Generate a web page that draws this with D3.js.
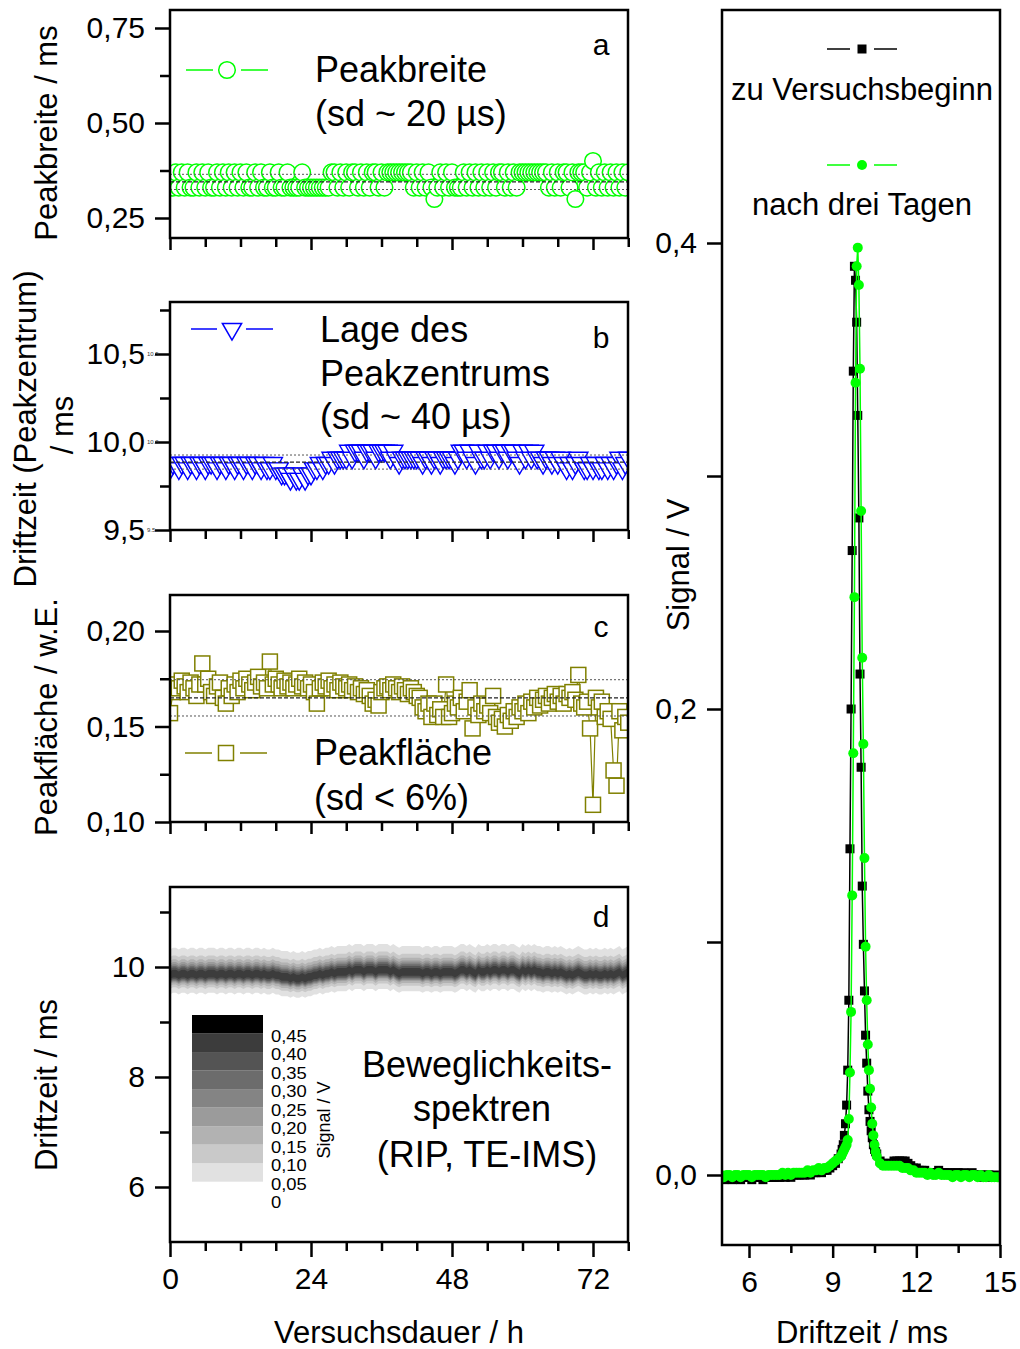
<!DOCTYPE html>
<html>
<head>
<meta charset="utf-8">
<title>RIP TE-IMS</title>
<script src="https://d3js.org/d3.v7.min.js"></script>
<style>
  body { margin: 0; background: #fff; }
  svg { display: block; font-family: Arial, "Liberation Sans", Helvetica, sans-serif; }
</style>
</head>
<body>
<div id="chart"></div>
<script>

// one spectrum every 30 min over 78 h
var hours = d3.range(0, 78.25, 0.5);

// a: Peakbreite / ms
var peakWidth = [
  0.33,0.33,0.37,0.33,0.37,0.33,0.37,0.33,0.33,0.37,0.33,0.37,
  0.33,0.37,0.33,0.33,0.37,0.33,0.37,0.33,0.37,0.33,0.37,0.33,
  0.37,0.33,0.37,0.33,0.33,0.37,0.33,0.37,0.33,0.33,0.37,0.33,
  0.33,0.37,0.33,0.33,0.37,0.33,0.33,0.33,0.33,0.37,0.33,0.33,
  0.33,0.33,0.33,0.33,0.33,0.33,0.33,0.37,0.37,0.33,0.37,0.33,
  0.37,0.33,0.37,0.37,0.33,0.37,0.33,0.37,0.33,0.37,0.37,0.33,
  0.37,0.33,0.37,0.37,0.37,0.37,0.37,0.37,0.37,0.37,0.37,0.33,
  0.37,0.33,0.37,0.33,0.37,0.33,0.30,0.33,0.37,0.33,0.37,0.33,
  0.37,0.33,0.33,0.33,0.37,0.33,0.37,0.33,0.37,0.33,0.37,0.33,
  0.37,0.33,0.37,0.33,0.37,0.37,0.33,0.37,0.33,0.37,0.33,0.37,
  0.37,0.37,0.37,0.37,0.37,0.37,0.37,0.37,0.37,0.33,0.37,0.33,
  0.37,0.33,0.37,0.37,0.33,0.37,0.30,0.37,0.37,0.37,0.33,0.37,
  0.40,0.33,0.37,0.33,0.37,0.33,0.37,0.33,0.37,0.33,0.37,0.33,0.37
];

// b: Driftzeit des Peakzentrums / ms
var peakCenter = [
  9.85,9.88,9.88,9.85,9.88,9.88,9.85,9.88,9.88,9.85,9.88,9.88,
  9.85,9.88,9.88,9.88,9.85,9.88,9.88,9.85,9.88,9.88,9.85,9.88,
  9.88,9.85,9.88,9.88,9.85,9.88,9.88,9.85,9.88,9.85,9.85,9.88,
  9.85,9.85,9.82,9.82,9.82,9.79,9.82,9.79,9.79,9.82,9.79,9.82,
  9.82,9.85,9.85,9.88,9.85,9.88,9.88,9.91,9.88,9.91,9.91,9.91,
  9.91,9.95,9.91,9.95,9.95,9.95,9.91,9.95,9.95,9.95,9.91,9.95,
  9.95,9.95,9.95,9.91,9.95,9.91,9.88,9.91,9.91,9.91,9.91,9.91,
  9.91,9.91,9.88,9.91,9.91,9.88,9.91,9.91,9.88,9.91,9.91,9.91,
  9.91,9.88,9.91,9.95,9.95,9.91,9.95,9.91,9.88,9.95,9.91,9.91,
  9.95,9.91,9.95,9.95,9.91,9.95,9.95,9.91,9.95,9.95,9.91,9.88,
  9.95,9.91,9.95,9.91,9.95,9.91,9.91,9.88,9.91,9.91,9.88,9.91,
  9.88,9.91,9.88,9.85,9.88,9.85,9.88,9.91,9.88,9.85,9.85,9.88,
  9.85,9.88,9.85,9.85,9.88,9.85,9.88,9.85,9.88,9.91,9.85,9.88,9.91
];

// c: Peakfläche / w.E.
var peakArea = [
  0.157,0.168,0.172,0.170,0.174,0.171,0.168,0.173,0.170,0.166,0.172,0.183,
  0.172,0.175,0.168,0.166,0.171,0.173,0.165,0.162,0.170,0.166,0.172,0.168,
  0.174,0.170,0.175,0.172,0.169,0.173,0.176,0.171,0.173,0.170,0.184,0.172,
  0.175,0.172,0.170,0.174,0.171,0.173,0.170,0.172,0.175,0.171,0.173,0.170,
  0.172,0.168,0.162,0.170,0.173,0.171,0.174,0.170,0.172,0.169,0.173,0.171,
  0.170,0.172,0.169,0.171,0.168,0.170,0.167,0.169,0.166,0.162,0.164,0.161,
  0.168,0.170,0.171,0.169,0.172,0.170,0.168,0.171,0.169,0.167,0.170,0.168,
  0.166,0.165,0.160,0.158,0.162,0.155,0.162,0.156,0.159,0.155,0.172,0.155,
  0.157,0.162,0.160,0.165,0.158,0.163,0.169,0.149,0.160,0.156,0.162,0.158,
  0.161,0.157,0.166,0.155,0.152,0.154,0.150,0.156,0.153,0.158,0.155,0.160,
  0.158,0.162,0.157,0.163,0.160,0.165,0.161,0.164,0.166,0.162,0.165,0.167,
  0.163,0.166,0.162,0.167,0.165,0.168,0.164,0.177,0.162,0.160,0.163,0.149,
  0.109,0.165,0.160,0.163,0.155,0.158,0.154,0.127,0.119,0.158,0.148,0.155,0.152
];

// mean - sd, mean, mean + sd
var widthStats = [0.325, 0.345, 0.365];
var centerStats = [9.846, 9.886, 9.926];
var areaStats = [0.1555, 0.165, 0.1745];

// d: contour levels (Signal / V)
var levels = [0, 0.05, 0.10, 0.15, 0.20, 0.25, 0.30, 0.35, 0.40, 0.45];
var levelLabels = ["0", "0,05", "0,10", "0,15", "0,20", "0,25", "0,30", "0,35", "0,40", "0,45"];
var levelColors = ["#ffffff", "#e1e1e1", "#c9c9c9", "#b2b2b2", "#9b9b9b", "#848484", "#6c6c6c", "#545454", "#3c3c3c", "#000000"];
// extent of each contour above / below the peak centre, ms (levels 0,05 ... 0,40)
var bandUpper = [0.47, 0.33, 0.26, 0.21, 0.17, 0.14, 0.11, 0.07];
var bandLower = [0.35, 0.25, 0.20, 0.16, 0.14, 0.12, 0.10, 0.07];

// right: RIP spectra
var driftTime = [
  5.0,5.1,5.2,5.3,5.4,5.5,5.6,5.7,5.8,5.9,
  6.0,6.1,6.2,6.3,6.4,6.5,6.6,6.7,6.8,6.9,
  7.0,7.1,7.2,7.3,7.4,7.5,7.6,7.7,7.8,7.9,
  8.0,8.1,8.2,8.3,8.4,8.5,8.6,8.7,8.8,8.9,
  9.0,9.1,9.2,
  9.30,9.34,9.38,9.42,9.46,9.50,9.54,9.58,9.62,9.66,
  9.70,9.74,9.78,9.82,9.86,9.90,9.94,9.98,10.02,10.06,
  10.10,10.14,10.18,10.22,10.26,10.30,10.34,10.38,10.42,10.46,
  10.50,10.54,10.58,
  10.7,10.8,10.9,11.0,11.1,11.2,11.3,11.4,11.5,11.6,
  11.7,11.8,11.9,12.0,12.1,12.2,12.3,12.4,12.5,12.6,
  12.7,12.8,12.9,13.0,13.1,13.2,13.3,13.4,13.5,13.6,
  13.7,13.8,13.9,14.0,14.1,14.2,14.3,14.4,14.5,14.6,
  14.7,14.8,14.9,15.0
];
var signalBegin = [
  -0.001,-0.002,-0.001,-0.001,-0.002,-0.001,-0.001,-0.002,-0.001,-0.001,
  -0.001,-0.002,-0.001,-0.001,-0.001,-0.002,-0.001,-0.001,-0.001,-0.001,
  -0.001,-0.001,0.000,-0.001,0.000,-0.001,0.000,0.000,0.000,0.000,
  0.000,0.001,0.000,0.001,0.001,0.002,0.001,0.002,0.002,0.003,
  0.004,0.005,0.007,
  0.009,0.011,0.013,0.017,0.022,0.030,0.045,0.075,0.140,0.200,
  0.268,0.345,0.390,0.384,0.366,0.326,0.282,0.215,0.175,0.124,
  0.099,0.079,0.060,0.048,0.036,0.028,0.023,0.019,0.016,0.013,
  0.011,0.010,0.009,
  0.006,0.005,0.005,0.005,0.005,0.006,0.006,0.006,0.006,0.006,
  0.005,0.004,0.003,0.003,0.002,0.002,0.002,0.001,0.001,0.001,
  0.001,0.002,0.001,0.001,0.001,0.001,0.000,0.001,0.001,0.000,
  0.001,0.000,0.000,0.001,0.000,0.000,0.000,-0.001,0.000,0.000,
  -0.001,0.000,-0.001,-0.001
];
var signalAfter = [
  0.000,-0.001,0.000,0.000,-0.001,0.000,0.000,-0.001,0.000,0.000,
  0.000,-0.001,0.000,0.000,0.000,0.000,-0.001,0.000,0.000,0.000,
  0.000,0.000,0.001,0.000,0.001,0.000,0.001,0.001,0.001,0.001,
  0.001,0.002,0.001,0.002,0.002,0.003,0.002,0.003,0.003,0.004,
  0.005,0.006,0.007,
  0.008,0.009,0.010,0.011,0.012,0.013,0.015,0.024,0.044,0.070,
  0.120,0.181,0.248,0.340,0.390,0.398,0.382,0.346,0.285,0.222,
  0.185,0.136,0.098,0.075,0.056,0.045,0.037,0.029,0.022,0.017,
  0.013,0.010,0.008,
  0.005,0.004,0.004,0.004,0.004,0.004,0.004,0.004,0.003,0.003,
  0.003,0.002,0.002,0.001,0.001,0.001,0.001,0.000,0.001,0.000,
  0.000,0.001,0.000,0.000,0.000,0.000,-0.001,0.000,0.000,-0.001,
  0.000,0.000,-0.001,0.000,0.000,-0.001,0.000,-0.001,-0.001,0.000,
  -0.001,-0.001,-0.001,-0.001
];

var timeMajor = [0, 24, 48, 72],
    timeMinor = [6, 12, 18, 30, 36, 42, 54, 60, 66, 78];

// ---------------- layout ----------------
var W = 1020, H = 1349,
    LX0 = 170, LX1 = 628,
    RX0 = 722, RX1 = 1000,
    FRAME = 2.5,
    TICK_FONT = 30,
    NOTE_FONT = 36,
    TITLE_FONT = 31;

var boxA = {top: 10, bottom: 238},
    boxB = {top: 302, bottom: 530},
    boxC = {top: 595, bottom: 822},
    boxD = {top: 887, bottom: 1242},
    boxR = {top: 10, bottom: 1245};

var GREEN = "#00ff00", BLUE = "#0000ff", OLIVE = "#808000";

var xTime = d3.scaleLinear().domain([0, 72]).range([170, 593]);
var yWidth = d3.scaleLinear().domain([0.25, 0.75]).range([218, 28]);
var yCenter = d3.scaleLinear().domain([9.5, 10.5]).range([530, 354]);
var yArea = d3.scaleLinear().domain([0.10, 0.20]).range([822, 631]);
var yDrift = d3.scaleLinear().domain([6, 10]).range([1187, 967]);
var xSpec = d3.scaleLinear().domain([6, 15]).range([749, 1000]);
var ySpec = d3.scaleLinear().domain([0, 0.4]).range([1175, 243]);
var yLegend = d3.scaleLinear().domain([0.05, 0.5]).range([1181.7, 1015]);

var loc = d3.formatLocale({decimal: ",", thousands: ".", grouping: [3], currency: ["", ""]});

var svg = d3.select("#chart").append("svg")
  .attr("width", W)
  .attr("height", H);

svg.append("rect").attr("width", W).attr("height", H).attr("fill", "#fff");

var defs = svg.append("defs");

function clipped(id, x0, x1, box) {
  defs.append("clipPath").attr("id", id)
    .append("rect")
      .attr("x", x0).attr("y", box.top)
      .attr("width", x1 - x0).attr("height", box.bottom - box.top);
  return svg.append("g").attr("clip-path", "url(#" + id + ")");
}

function frame(x0, x1, box) {
  svg.append("rect")
    .attr("x", x0).attr("y", box.top)
    .attr("width", x1 - x0).attr("height", box.bottom - box.top)
    .attr("fill", "none")
    .attr("stroke", "#000")
    .attr("stroke-width", FRAME);
}

function styleAxis(a) {
  a.attr("font-family", null).attr("font-size", TICK_FONT);
  a.select(".domain").remove();
  a.selectAll(".tick line").attr("stroke", "#000").attr("stroke-width", 2.5);
  a.selectAll(".tick text").attr("fill", "#000");
}

function leftAxis(scale, x, major, minor, fmt, majLen, minLen) {
  var a = svg.append("g").attr("transform", "translate(" + x + ",0)")
    .call(d3.axisLeft(scale).tickValues(major).tickSize(majLen).tickPadding(10).tickFormat(fmt));
  styleAxis(a);
  var m = svg.append("g").attr("transform", "translate(" + x + ",0)")
    .call(d3.axisLeft(scale).tickValues(minor).tickSize(minLen).tickFormat(""));
  styleAxis(m);
}

function bottomAxis(scale, y, major, minor, majLen, minLen, pad, fmt) {
  var a = svg.append("g").attr("transform", "translate(0," + y + ")")
    .call(d3.axisBottom(scale).tickValues(major).tickSize(majLen).tickPadding(pad).tickFormat(fmt));
  styleAxis(a);
  var m = svg.append("g").attr("transform", "translate(0," + y + ")")
    .call(d3.axisBottom(scale).tickValues(minor).tickSize(minLen).tickFormat(""));
  styleAxis(m);
}

function label(s, x, y, size, o) {
  o = o || {};
  var tr = "translate(" + x + "," + y + ")";
  if (o.sx) tr += " scale(" + o.sx + ",1)";
  if (o.rot) tr += " rotate(" + o.rot + ")";
  return svg.append("text")
    .attr("transform", tr)
    .attr("font-size", size)
    .attr("text-anchor", o.anchor || "start")
    .attr("fill", o.fill || "#000")
    .text(s);
}

function statLines(g, scale, stats) {
  g.selectAll(".stat")
    .data(stats)
    .enter()
    .append("line")
      .attr("x1", LX0).attr("x2", LX1)
      .attr("y1", function(d) { return scale(d); })
      .attr("y2", function(d) { return scale(d); })
      .attr("stroke", function(d, i) { return i === 1 ? "#222" : "#555"; })
      .attr("stroke-width", function(d, i) { return i === 1 ? 1.2 : 1; })
      .attr("stroke-dasharray", function(d, i) { return i === 1 ? "4,2" : "2,2"; });
}

// ---------------- panel a ----------------
var dataA = hours.map(function(t, i) { return {t: t, v: peakWidth[i]}; });
var gA = clipped("clipA", LX0, LX1, boxA);
gA.append("path")
  .attr("d", d3.line().x(function(d) { return xTime(d.t); }).y(function(d) { return yWidth(d.v); })(dataA))
  .attr("fill", "none").attr("stroke", GREEN).attr("stroke-width", 1);
gA.selectAll("circle")
  .data(dataA)
  .enter()
  .append("circle")
    .attr("cx", function(d) { return xTime(d.t); })
    .attr("cy", function(d) { return yWidth(d.v); })
    .attr("r", 8.3)
    .attr("fill", "#fff")
    .attr("stroke", GREEN)
    .attr("stroke-width", 1.5);
statLines(gA, yWidth, widthStats);

// ---------------- panel b ----------------
var dataB = hours.map(function(t, i) { return {t: t, v: peakCenter[i]}; });
var tri = d3.symbol().type(d3.symbolTriangle).size(160);
var gB = clipped("clipB", LX0, LX1, boxB);
gB.append("path")
  .attr("d", d3.line().x(function(d) { return xTime(d.t); }).y(function(d) { return yCenter(d.v); })(dataB))
  .attr("fill", "none").attr("stroke", BLUE).attr("stroke-width", 1);
gB.selectAll(".tri")
  .data(dataB)
  .enter()
  .append("path")
    .attr("class", "tri")
    .attr("d", tri)
    .attr("transform", function(d) { return "translate(" + xTime(d.t) + "," + yCenter(d.v) + ") rotate(180)"; })
    .attr("fill", "#fff")
    .attr("stroke", BLUE)
    .attr("stroke-width", 1.4);
statLines(gB, yCenter, centerStats);

// ---------------- panel c ----------------
var dataC = hours.map(function(t, i) { return {t: t, v: peakArea[i]}; });
var gC = clipped("clipC", LX0, LX1, boxC);
gC.append("path")
  .attr("d", d3.line().x(function(d) { return xTime(d.t); }).y(function(d) { return yArea(d.v); })(dataC))
  .attr("fill", "none").attr("stroke", OLIVE).attr("stroke-width", 1.2);
gC.selectAll("rect")
  .data(dataC)
  .enter()
  .append("rect")
    .attr("x", function(d) { return xTime(d.t) - 7.5; })
    .attr("y", function(d) { return yArea(d.v) - 7.5; })
    .attr("width", 15).attr("height", 15)
    .attr("fill", "#fff")
    .attr("stroke", OLIVE)
    .attr("stroke-width", 1.5);
statLines(gC, yArea, areaStats);

// ---------------- panel d ----------------
var gD = clipped("clipD", LX0, LX1, boxD);
bandUpper.forEach(function(up, k) {
  var area = d3.area()
    .x(function(d, i) { return xTime(hours[i]); })
    .y0(function(d) { return yDrift(d - bandLower[k]); })
    .y1(function(d) { return yDrift(d + up); });
  gD.append("path")
    .attr("d", area(peakCenter))
    .attr("fill", levelColors[k + 1]);
});

// colour scale legend
var legendBlocks = levels.slice(1);
svg.selectAll(".lvl")
  .data(legendBlocks)
  .enter()
  .append("rect")
    .attr("class", "lvl")
    .attr("x", 192)
    .attr("width", 71)
    .attr("y", function(d) { return yLegend(d + 0.05); })
    .attr("height", function(d) { return yLegend(d) - yLegend(d + 0.05); })
    .attr("fill", function(d, i) { return levelColors[i + 1]; });
svg.selectAll(".lvlLabel")
  .data(levels)
  .enter()
  .append("text")
    .attr("class", "lvlLabel")
    .attr("transform", function(d) { return "translate(271," + (yLegend(d) + 8) + ") scale(1.15,1)"; })
    .attr("font-size", 16)
    .text(function(d, i) { return levelLabels[i]; });
label("Signal / V", 330, 1120, 18, {rot: -90, anchor: "middle"});

// ---------------- right panel: spectra ----------------
var gR = clipped("clipR", RX0, RX1, boxR);
var specBegin = driftTime.map(function(t, i) { return {t: t, v: signalBegin[i]}; });
var specAfter = driftTime.map(function(t, i) { return {t: t, v: signalAfter[i]}; });
var specLine = d3.line().x(function(d) { return xSpec(d.t); }).y(function(d) { return ySpec(d.v); });

gR.append("path").attr("d", specLine(specBegin))
  .attr("fill", "none").attr("stroke", "#000").attr("stroke-width", 1.5);
gR.selectAll(".sq")
  .data(specBegin)
  .enter()
  .append("rect")
    .attr("class", "sq")
    .attr("x", function(d) { return xSpec(d.t) - 4.5; })
    .attr("y", function(d) { return ySpec(d.v) - 4.5; })
    .attr("width", 9).attr("height", 9)
    .attr("fill", "#000");

gR.append("path").attr("d", specLine(specAfter))
  .attr("fill", "none").attr("stroke", GREEN).attr("stroke-width", 1.5);
gR.selectAll(".dot")
  .data(specAfter)
  .enter()
  .append("circle")
    .attr("class", "dot")
    .attr("cx", function(d) { return xSpec(d.t); })
    .attr("cy", function(d) { return ySpec(d.v); })
    .attr("r", 5)
    .attr("fill", GREEN);

// ---------------- frames and axes ----------------
frame(LX0, LX1, boxA);
frame(LX0, LX1, boxB);
frame(LX0, LX1, boxC);
frame(LX0, LX1, boxD);
frame(RX0, RX1, boxR);

leftAxis(yWidth, LX0, [0.25, 0.5, 0.75], [0.375, 0.625], loc.format(".2f"), 15, 10);
leftAxis(yCenter, LX0, [9.5, 10, 10.5], [9.75, 10.25, 10.75], loc.format(".1f"), 15, 10);
leftAxis(yArea, LX0, [0.10, 0.15, 0.20], [0.125, 0.175], loc.format(".2f"), 15, 10);
leftAxis(yDrift, LX0, [6, 8, 10], [7, 9, 11], loc.format("d"), 15, 10);
leftAxis(ySpec, RX0, [0, 0.2, 0.4], [0.1, 0.3], loc.format(".1f"), 15, 15);

bottomAxis(xTime, boxA.bottom, timeMajor, timeMinor, 12, 9, 0, "");
bottomAxis(xTime, boxB.bottom, timeMajor, timeMinor, 12, 9, 0, "");
bottomAxis(xTime, boxC.bottom, timeMajor, timeMinor, 12, 9, 0, "");
bottomAxis(xTime, boxD.bottom, timeMajor, timeMinor, 15, 9, 11, loc.format("d"));
bottomAxis(xSpec, boxR.bottom, [6, 9, 12, 15], [7.5, 10.5, 13.5], 13, 8, 13, loc.format("d"));

// tiny duplicate labels next to the b axis
[9.5, 10, 10.5].forEach(function(v) {
  svg.append("text")
    .attr("x", 147).attr("y", yCenter(v)).attr("dy", "0.32em")
    .attr("font-size", 6).attr("fill", "#333")
    .text(d3.format(".1f")(v));
});

// ---------------- legends and annotations ----------------
// a
svg.append("line").attr("x1", 186).attr("x2", 213).attr("y1", 70).attr("y2", 70).attr("stroke", GREEN).attr("stroke-width", 1.5);
svg.append("line").attr("x1", 241).attr("x2", 268).attr("y1", 70).attr("y2", 70).attr("stroke", GREEN).attr("stroke-width", 1.5);
svg.append("circle").attr("cx", 227).attr("cy", 70).attr("r", 8.3).attr("fill", "#fff").attr("stroke", GREEN).attr("stroke-width", 1.5);
label("Peakbreite", 315, 82, NOTE_FONT);
label("(sd ~ 20 µs)", 315, 126, NOTE_FONT);
label("a", 601, 55, 30, {anchor: "middle"});

// b
svg.append("line").attr("x1", 191).attr("x2", 217).attr("y1", 329).attr("y2", 329).attr("stroke", BLUE).attr("stroke-width", 1.5);
svg.append("line").attr("x1", 246).attr("x2", 273).attr("y1", 329).attr("y2", 329).attr("stroke", BLUE).attr("stroke-width", 1.5);
svg.append("path").attr("d", tri).attr("transform", "translate(232,329) rotate(180)")
  .attr("fill", "#fff").attr("stroke", BLUE).attr("stroke-width", 1.5);
label("Lage des", 320, 342, NOTE_FONT);
label("Peakzentrums", 320, 386, NOTE_FONT);
label("(sd ~ 40 µs)", 320, 429, NOTE_FONT);
label("b", 601, 348, 30, {anchor: "middle"});

// c
svg.append("line").attr("x1", 185).attr("x2", 212).attr("y1", 753).attr("y2", 753).attr("stroke", OLIVE).attr("stroke-width", 1.5);
svg.append("line").attr("x1", 240).attr("x2", 267).attr("y1", 753).attr("y2", 753).attr("stroke", OLIVE).attr("stroke-width", 1.5);
svg.append("rect").attr("x", 218.5).attr("y", 745.5).attr("width", 15).attr("height", 15)
  .attr("fill", "#fff").attr("stroke", OLIVE).attr("stroke-width", 1.5);
label("Peakfläche", 314, 765, NOTE_FONT);
label("(sd < 6%)", 314, 810, NOTE_FONT);
label("c", 601, 637, 30, {anchor: "middle"});

// d
label("Beweglichkeits-", 487, 1077, NOTE_FONT, {anchor: "middle"});
label("spektren", 482, 1121, NOTE_FONT, {anchor: "middle"});
label("(RIP, TE-IMS)", 487, 1167, NOTE_FONT, {anchor: "middle"});
label("d", 601, 927, 30, {anchor: "middle"});

// right legend
svg.append("line").attr("x1", 827).attr("x2", 850).attr("y1", 49).attr("y2", 49).attr("stroke", "#000").attr("stroke-width", 1.5);
svg.append("line").attr("x1", 874).attr("x2", 897).attr("y1", 49).attr("y2", 49).attr("stroke", "#000").attr("stroke-width", 1.5);
svg.append("rect").attr("x", 857.5).attr("y", 44.5).attr("width", 9).attr("height", 9).attr("fill", "#000");
label("zu Versuchsbeginn", 862, 100, 31, {anchor: "middle"});
svg.append("line").attr("x1", 827).attr("x2", 850).attr("y1", 165).attr("y2", 165).attr("stroke", GREEN).attr("stroke-width", 1.5);
svg.append("line").attr("x1", 874).attr("x2", 897).attr("y1", 165).attr("y2", 165).attr("stroke", GREEN).attr("stroke-width", 1.5);
svg.append("circle").attr("cx", 862).attr("cy", 165).attr("r", 5).attr("fill", GREEN);
label("nach drei Tagen", 862, 215, 31, {anchor: "middle"});

// ---------------- axis titles ----------------
label("Peakbreite / ms", 57, 133, TITLE_FONT, {rot: -90, anchor: "middle"});
label("Driftzeit (Peakzentrum)", 36, 429, TITLE_FONT, {rot: -90, anchor: "middle"});
label("/ ms", 73, 425, TITLE_FONT, {rot: -90, anchor: "middle"});
label("Peakfläche / w.E.", 57, 717, TITLE_FONT, {rot: -90, anchor: "middle"});
label("Driftzeit / ms", 57, 1085, TITLE_FONT, {rot: -90, anchor: "middle"});
label("Versuchsdauer / h", 399, 1343, TITLE_FONT, {anchor: "middle"});
label("Signal / V", 689, 565, TITLE_FONT, {rot: -90, anchor: "middle"});
label("Driftzeit / ms", 862, 1343, TITLE_FONT, {anchor: "middle"});

</script>
</body>
</html>
